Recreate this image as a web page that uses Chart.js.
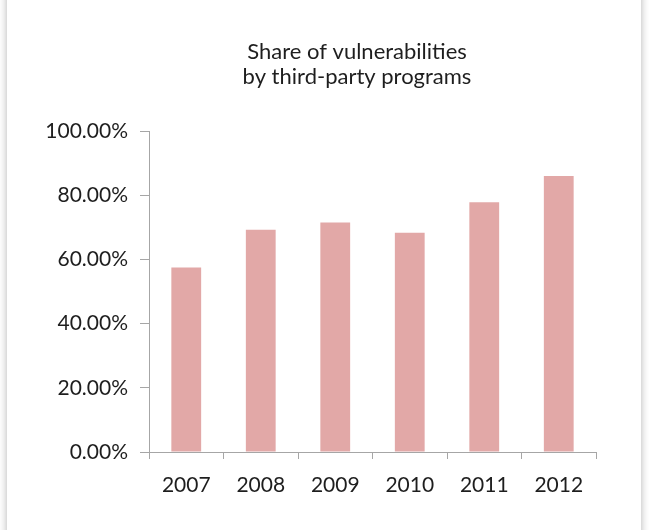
<!DOCTYPE html>
<html>
<head>
<meta charset="utf-8">
<script src="https://cdn.jsdelivr.net/npm/chart.js@4"></script>
<style>
    html, body {
        margin: 0;
        padding: 0;
        background: #ffffff;
        overflow: hidden;
    }
    #frame {
        position: absolute;
        left: 7px;
        top: -20px;
        width: 634px;
        height: 580px;
        background: #ffffff;
        box-shadow: 0 0 8px rgba(0, 0, 0, 0.3);
    }
    #wrap {
        position: absolute;
        left: 0;
        top: 0;
        width: 649px;
        height: 530px;
    }
</style>
</head>
<body>
<div id="frame"></div>
<div id="wrap"><canvas id="myChart" width="649" height="530"></canvas></div>
<script>
let years = ['2007', '2008', '2009', '2010', '2011', '2012'];
let shareValues = [57.5, 69.2, 71.5, 68.3, 77.8, 86.0];
let titleLines = ['Share of vulnerabilities', 'by third-party programs'];

let barColor = '#e2a8a7';
let axisColor = '#a6a6a6';
let textColor = '#1e1e1e';

function addChartItem() {
    const ctx = document.getElementById('myChart');

    new Chart(ctx, {
        type: 'bar',
        data: {
            labels: years,
            datasets: [{
                data: shareValues,
                backgroundColor: barColor,
                borderWidth: 0,
                categoryPercentage: 1,
                barPercentage: 0.4,
                yAxisID: 'y',
            }]
        },
        options: {
            responsive: false,
            animation: false,
            layout: {
                // negative right padding moves the title centre to the right,
                // the empty y2 axis below takes the space back
                padding: { left: 0, right: -65, bottom: 0, top: 0 }
            },
            scales: {
                y: {
                    min: 0,
                    max: 100,
                    afterFit: function (scale) {
                        scale.width = 149;
                    },
                    border: { color: axisColor, width: 1 },
                    grid: {
                        drawOnChartArea: false,
                        color: axisColor,
                        tickLength: 9,
                    },
                    ticks: {
                        stepSize: 20,
                        padding: 12,
                        color: textColor,
                        font: { family: 'Lato', size: 21 },
                        callback: function (value) {
                            return value.toFixed(2) + '%';
                        }
                    }
                },
                y2: {
                    type: 'linear',
                    position: 'right',
                    afterFit: function (scale) {
                        scale.width = 118;
                    },
                    border: { display: false },
                    grid: { display: false },
                    ticks: { display: false },
                },
                x: {
                    afterFit: function (scale) {
                        scale.height = 78;
                    },
                    border: { color: axisColor, width: 1 },
                    grid: {
                        drawOnChartArea: false,
                        color: axisColor,
                        tickLength: 7,
                        offset: true,
                    },
                    ticks: {
                        padding: 14,
                        color: textColor,
                        font: { family: 'Lato', size: 21 },
                    }
                }
            },
            plugins: {
                legend: {
                    display: false,
                },
                tooltip: {
                    enabled: false,
                },
                title: {
                    display: true,
                    text: titleLines,
                    color: textColor,
                    font: { family: 'Lato', size: 22, weight: 'normal', lineHeight: '25px' },
                    padding: { top: 39, bottom: 42 },
                }
            }
        }
    });
}

addChartItem();
</script>
</body>
</html>
